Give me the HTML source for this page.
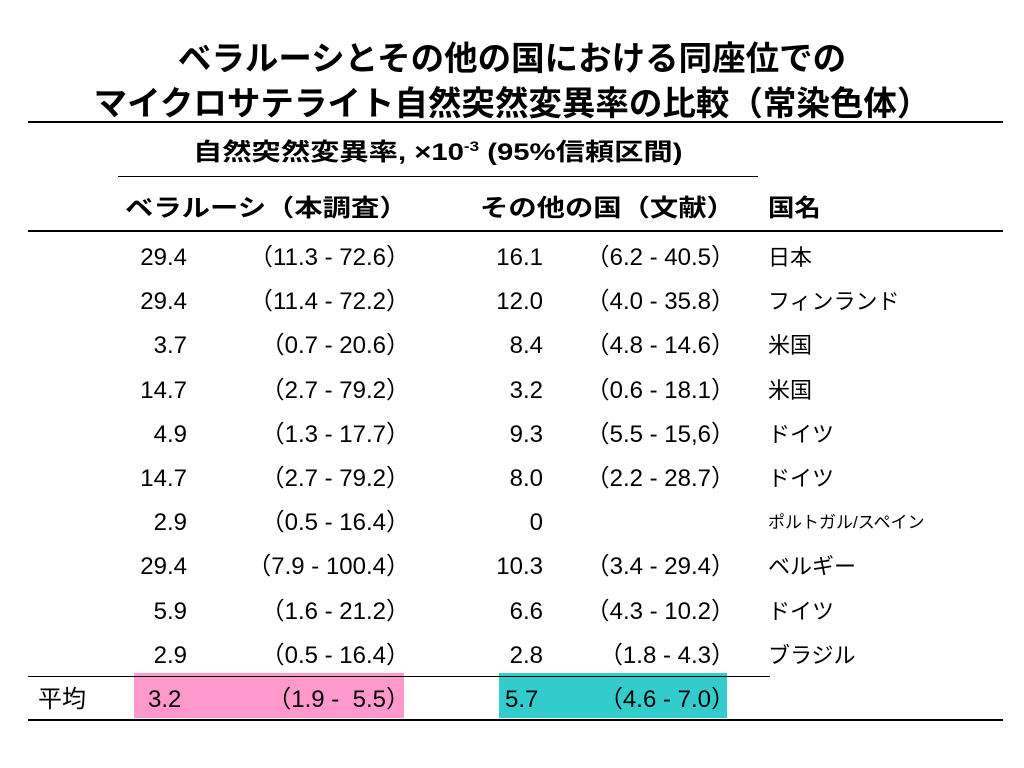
<!DOCTYPE html>
<html><head><meta charset="utf-8"><style>
body{margin:0;width:1024px;height:768px;background:#fff;position:relative;overflow:hidden;font-family:"Liberation Sans","Noto Sans CJK JP",sans-serif;color:#000}
.a{position:absolute;white-space:nowrap}
.t{font-weight:bold;font-size:33.5px;left:0;width:1024px;text-align:center}
.ln{position:absolute;background:#000}
.c{font-size:24px;line-height:26px}
.r{text-align:right}
.h{font-weight:bold;font-size:24px;transform-origin:left top}
</style></head><body>
<div class="a t" style="top:31px">ベラルーシとその他の国における同座位での</div>
<div class="a t" style="top:76px">マイクロサテライト自然突然変異率の比較（常染色体）</div>
<div class="ln" style="left:28px;top:121px;width:975px;height:2px"></div>
<div class="a h" style="left:193px;top:132px;transform:scaleX(1.22)">自然突然変異率, ×10<sup style="font-size:14px">-3</sup> (95%信頼区間)</div>
<div class="ln" style="left:118px;top:176px;width:640px;height:1px"></div>
<div class="a h" style="left:125px;top:188px;transform:scaleX(1.18)">ベラルーシ（本調査）</div>
<div class="a h" style="left:480px;top:188px;transform:scaleX(1.18)">その他の国（文献）</div>
<div class="a h" style="left:768px;top:188px;transform:scaleX(1.1)">国名</div>
<div class="ln" style="left:28px;top:230px;width:975px;height:2px"></div>
<div class="a" style="left:134px;top:673px;width:270px;height:45px;background:#ff99cc"></div>
<div class="a" style="left:499px;top:673px;width:228px;height:45px;background:#33cccc"></div>
<div class="ln" style="left:28px;top:676px;width:742px;height:1px"></div>
<div class="ln" style="left:28px;top:719px;width:975px;height:2px"></div>
<div id="rows"></div>
<script>
const belVals=["29.4","29.4","3.7","14.7","4.9","14.7","2.9","29.4","5.9","2.9"];
const belCI=["（11.3 - 72.6）","（11.4 - 72.2）","（0.7 - 20.6）","（2.7 - 79.2）","（1.3 - 17.7）","（2.7 - 79.2）","（0.5 - 16.4）","（7.9 - 100.4）","（1.6 - 21.2）","（0.5 - 16.4）"];
const othVals=["16.1","12.0","8.4","3.2","9.3","8.0","0","10.3","6.6","2.8"];
const othCI=["（6.2 - 40.5）","（4.0 - 35.8）","（4.8 - 14.6）","（0.6 - 18.1）","（5.5 - 15,6）","（2.2 - 28.7）","","（3.4 - 29.4）","（4.3 - 10.2）","（1.8 - 4.3）"];
const countries=["日本","フィンランド","米国","米国","ドイツ","ドイツ","ポルトガル/スペイン","ベルギー","ドイツ","ブラジル"];
const root=document.getElementById('rows');
function cell(txt,left,top,right,size){
  const d=document.createElement('div');
  d.className='a c'+(right?' r':'');
  if(right){d.style.left=(left-250)+'px';d.style.width='250px';}else d.style.left=left+'px';
  d.style.top=top+'px';
  if(size)d.style.fontSize=size+'px';
  d.textContent=txt;
  root.appendChild(d);return d;
}
for(let i=0;i<belVals.length;i++){
  const y=245+i*44.2;
  let e;
  e=cell(belVals[i],187,y,true);
  
  
  e=cell(belCI[i],410,y,true);
  
  
  e=cell(othVals[i],543,y,true);
  
  
  e=cell(othCI[i],735,y,true);
  
  
  e=cell(countries[i],768,y,false,countries[i].length>6?17:22);
  
  
}
let m;
m=cell('平均',38,687,false);


m=cell('3.2',148,687,false);


m=cell('（1.9 -  5.5）',410,687,true);


m.style.whiteSpace='pre';
m=cell('5.7',505,687,false);


m=cell('（4.6 - 7.0）',735,687,true);


</script>
</body></html>
